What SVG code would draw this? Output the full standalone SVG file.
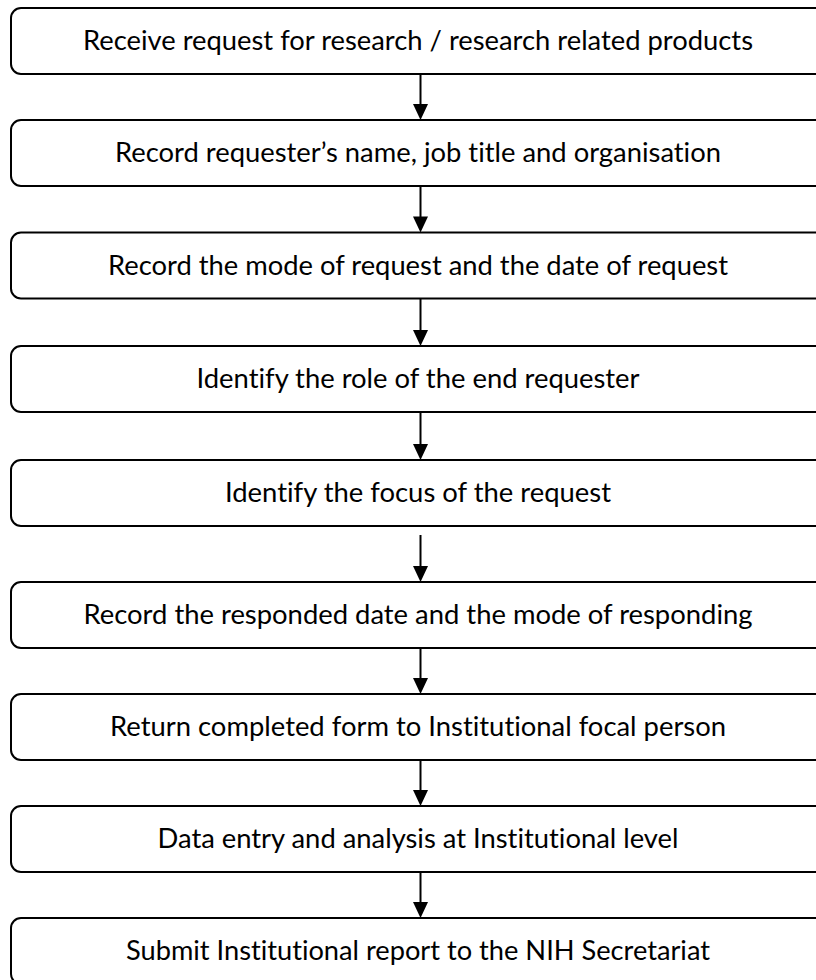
<svg xmlns="http://www.w3.org/2000/svg" width="816" height="980" viewBox="0 0 816 980">
<style>
.box{fill:#fff;stroke:#000;stroke-width:2}
.lbl{font-family:Lato,"Open Sans","Liberation Sans",sans-serif;font-size:26px;fill:#000;text-anchor:middle;font-variant-ligatures:none}
.conn line{stroke:#000;stroke-width:2}
.conn polygon{fill:#000}
</style>
<rect width="816" height="980" fill="#fff"/>
<g id="n1"><rect class="box" x="11" y="8" width="815" height="66" rx="10"/><text class="lbl" x="418" y="50" textLength="670" lengthAdjust="spacingAndGlyphs">Receive request for research / research related products</text></g>
<g id="n2"><rect class="box" x="11" y="120" width="815" height="66" rx="10"/><text class="lbl" x="418" y="162" textLength="606" lengthAdjust="spacingAndGlyphs">Record requester’s name, job title and organisation</text></g>
<g id="n3"><rect class="box" x="11" y="232.5" width="815" height="66" rx="10"/><text class="lbl" x="418" y="274.5" textLength="620" lengthAdjust="spacingAndGlyphs">Record the mode of request and the date of request</text></g>
<g id="n4"><rect class="box" x="11" y="346" width="815" height="66" rx="10"/><text class="lbl" x="418" y="388" textLength="443" lengthAdjust="spacingAndGlyphs">Identify the role of the end requester</text></g>
<g id="n5"><rect class="box" x="11" y="460" width="815" height="66" rx="10"/><text class="lbl" x="418" y="502" textLength="386" lengthAdjust="spacingAndGlyphs">Identify the focus of the request</text></g>
<g id="n6"><rect class="box" x="11" y="582" width="815" height="66" rx="10"/><text class="lbl" x="418" y="624" textLength="669" lengthAdjust="spacingAndGlyphs">Record the responded date and the mode of responding</text></g>
<g id="n7"><rect class="box" x="11" y="694" width="815" height="66" rx="10"/><text class="lbl" x="418" y="736" textLength="616" lengthAdjust="spacingAndGlyphs">Return completed form to Institutional focal person</text></g>
<g id="n8"><rect class="box" x="11" y="806" width="815" height="66" rx="10"/><text class="lbl" x="418" y="848" textLength="521" lengthAdjust="spacingAndGlyphs">Data entry and analysis at Institutional level</text></g>
<g id="n9"><rect class="box" x="11" y="918" width="815" height="66" rx="10"/><text class="lbl" x="418" y="960" textLength="584" lengthAdjust="spacingAndGlyphs">Submit Institutional report to the NIH Secretariat</text></g>
<g id="connectors" class="conn">
<line x1="420.5" y1="74" x2="420.5" y2="106"/><polygon points="413,104 428,104 420.5,120"/>
<line x1="420.5" y1="186" x2="420.5" y2="218"/><polygon points="413,216.5 428,216.5 420.5,232.5"/>
<line x1="420.5" y1="298.5" x2="420.5" y2="332"/><polygon points="413,330 428,330 420.5,346"/>
<line x1="420.5" y1="412" x2="420.5" y2="446"/><polygon points="413,444 428,444 420.5,460"/>
<line x1="420.5" y1="535" x2="420.5" y2="568"/><polygon points="413,566 428,566 420.5,582"/>
<line x1="420.5" y1="648" x2="420.5" y2="680"/><polygon points="413,678 428,678 420.5,694"/>
<line x1="420.5" y1="760" x2="420.5" y2="792"/><polygon points="413,790 428,790 420.5,806"/>
<line x1="420.5" y1="872" x2="420.5" y2="904"/><polygon points="413,902 428,902 420.5,918"/>
</g>
</svg>
